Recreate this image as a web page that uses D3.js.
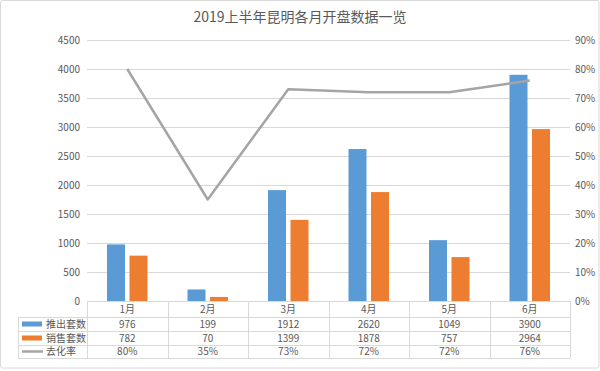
<!DOCTYPE html>
<html>
<head>
<meta charset="utf-8">
<script src="https://cdn.jsdelivr.net/npm/d3@7"></script>
<style>
  body { margin: 0; background: #fff; }
  svg { display: block; font-family: "Noto Sans CJK SC", "Noto Sans", sans-serif; }
</style>
</head>
<body>
<svg id="chart" width="600" height="371"></svg>
<script>
const months = ["1月", "2月", "3月", "4月", "5月", "6月"];
const launched = [976, 199, 1912, 2620, 1049, 3900];
const sold = [782, 70, 1399, 1878, 757, 2964];
const rate = [80, 35, 73, 72, 72, 76];
const leftTicks = [0, 500, 1000, 1500, 2000, 2500, 3000, 3500, 4000, 4500];
const rightTicks = [0, 10, 20, 30, 40, 50, 60, 70, 80, 90];
const seriesNames = ["推出套数", "销售套数", "去化率"];

const blue = "#5b9bd5", orange = "#ed7d31", gray = "#a5a5a5";
const textColor = "#595959", gridColor = "#d9d9d9";

const svg = d3.select("#chart");
const plotLeft = 87, plotRight = 570, plotTop = 40, plotBottom = 301;
const tableLeft = 18;

// outer frame
svg.append("rect")
    .attr("x", 0.5).attr("y", 0.5)
    .attr("width", 598.5).attr("height", 367.5)
    .attr("rx", 2)
    .attr("fill", "#fff")
    .attr("stroke", gridColor);

svg.append("text")
    .attr("x", 300).attr("y", 22)
    .attr("text-anchor", "middle")
    .attr("fill", textColor)
    .style("font-size", "14px")
    .text("2019上半年昆明各月开盘数据一览");

const x = d3.scaleBand().domain(months).range([plotLeft, plotRight]);
const yL = d3.scaleLinear().domain([0, 4500]).range([plotBottom, plotTop]);
const yR = d3.scaleLinear().domain([0, 90]).range([plotBottom, plotTop]);

// gridlines
svg.append("g").selectAll("line")
    .data(leftTicks.slice(1))
    .join("line")
    .attr("x1", plotLeft).attr("x2", plotRight)
    .attr("y1", d => Math.round(yL(d)) + 0.5)
    .attr("y2", d => Math.round(yL(d)) + 0.5)
    .attr("stroke", gridColor);

// axis labels
svg.append("g").selectAll("text")
    .data(leftTicks)
    .join("text")
    .attr("x", 80)
    .attr("y", d => yL(d) + 3.5)
    .attr("text-anchor", "end")
    .attr("fill", textColor)
    .style("font-size", "10px")
    .text(d => d);

svg.append("g").selectAll("text")
    .data(rightTicks)
    .join("text")
    .attr("x", 575)
    .attr("y", d => yR(d) + 3.5)
    .attr("fill", textColor)
    .style("font-size", "10px")
    .text(d => d + "%");

// bars
const barW = 18, barGap = 4.5;
svg.append("g").selectAll("rect")
    .data(launched)
    .join("rect")
    .attr("x", (d, i) => x(months[i]) + x.bandwidth() / 2 - barGap / 2 - barW)
    .attr("y", d => yL(d))
    .attr("width", barW)
    .attr("height", d => plotBottom - yL(d))
    .attr("fill", blue);

svg.append("g").selectAll("rect")
    .data(sold)
    .join("rect")
    .attr("x", (d, i) => x(months[i]) + x.bandwidth() / 2 + barGap / 2)
    .attr("y", d => yL(d))
    .attr("width", barW)
    .attr("height", d => plotBottom - yL(d))
    .attr("fill", orange);

// rate line
const line = d3.line()
    .x((d, i) => x(months[i]) + x.bandwidth() / 2)
    .y(d => yR(d));

svg.append("path")
    .datum(rate)
    .attr("d", line)
    .attr("fill", "none")
    .attr("stroke", gray)
    .attr("stroke-width", 2.5)
    .attr("stroke-linejoin", "round");

// data table
const rowTops = [301, 317, 331, 345, 358];
const table = svg.append("g").attr("stroke", gridColor).attr("shape-rendering", "crispEdges");

// horizontal lines
table.append("line").attr("x1", plotLeft).attr("x2", plotRight).attr("y1", rowTops[0] + 0.5).attr("y2", rowTops[0] + 0.5);
rowTops.slice(1).forEach(yy => {
    table.append("line").attr("x1", tableLeft).attr("x2", plotRight).attr("y1", yy + 0.5).attr("y2", yy + 0.5);
});
// vertical lines
table.append("line").attr("x1", tableLeft + 0.5).attr("x2", tableLeft + 0.5).attr("y1", rowTops[1]).attr("y2", rowTops[4]);
months.forEach(m => {
    const xx = Math.round(x(m)) + 0.5;
    table.append("line").attr("x1", xx).attr("x2", xx).attr("y1", rowTops[0]).attr("y2", rowTops[4]);
});
table.append("line").attr("x1", plotRight + 0.5).attr("x2", plotRight + 0.5).attr("y1", rowTops[0]).attr("y2", rowTops[4]);

const cellText = (row, values, fmt) => {
    svg.append("g").selectAll("text")
        .data(values)
        .join("text")
        .attr("x", (d, i) => x(months[i]) + x.bandwidth() / 2)
        .attr("y", (rowTops[row] + rowTops[row + 1]) / 2 + 3.5)
        .attr("text-anchor", "middle")
        .attr("fill", textColor)
        .style("font-size", "10px")
        .text(fmt);
};
cellText(0, months, d => d);
cellText(1, launched, d => d);
cellText(2, sold, d => d);
cellText(3, rate, d => d + "%");

// legend keys
const keyColors = [blue, orange, gray];
seriesNames.forEach((name, k) => {
    const cy = (rowTops[k + 1] + rowTops[k + 2]) / 2;
    if (k < 2) {
        svg.append("rect")
            .attr("x", 22).attr("y", cy - 2.5)
            .attr("width", 20).attr("height", 5)
            .attr("fill", keyColors[k]);
    } else {
        svg.append("line")
            .attr("x1", 22).attr("x2", 43)
            .attr("y1", cy).attr("y2", cy)
            .attr("stroke", keyColors[k])
            .attr("stroke-width", 2.5);
    }
    svg.append("text")
        .attr("x", 46)
        .attr("y", cy + 3.5)
        .attr("fill", textColor)
        .style("font-size", "10px")
        .text(name);
});
</script>
</body>
</html>
